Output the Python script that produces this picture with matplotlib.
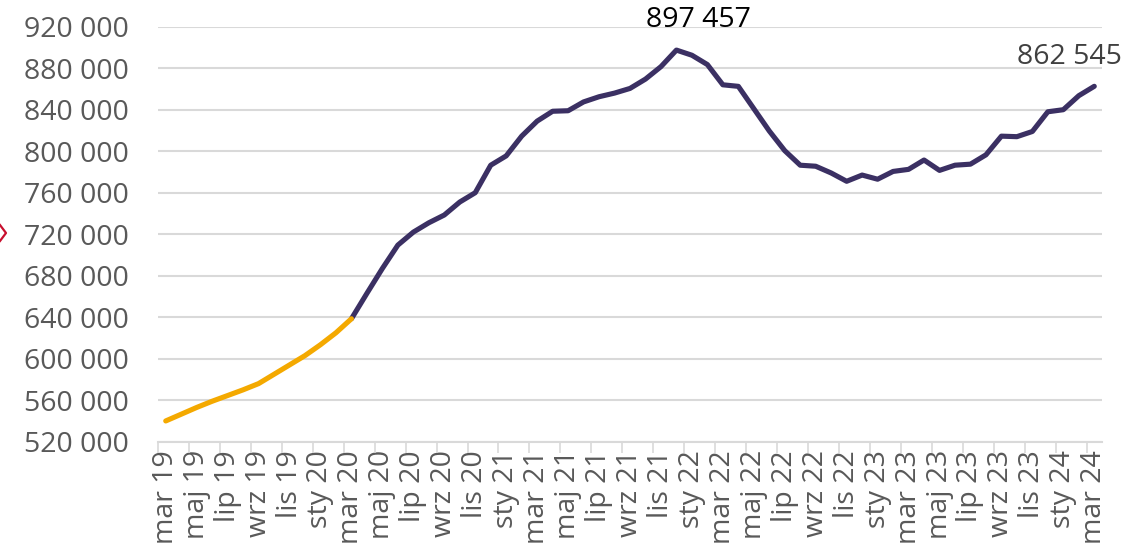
import numpy as np
import matplotlib.pyplot as plt
from matplotlib.lines import Line2D
from matplotlib.ticker import FuncFormatter

# ---------------- data ---------------- #
values = [540000, 546500, 553000, 559000, 564500, 570000, 576000, 585000,
          594000, 603000, 613500, 625000, 638500, 663000, 687000, 709500,
          722000, 731000, 738500, 751000, 760000, 786500, 795500, 814500,
          829000, 838500, 839000, 847500, 852500, 856000, 860500, 869500,
          881500, 897457, 892500, 883500, 864000, 862500, 841000, 819500,
          800500, 786500, 785500, 779000, 771000, 777000, 773000, 780500,
          782500, 791500, 781500, 786500, 787500, 796500, 814500, 814000,
          819000, 838000, 840000, 853500, 862545]
split_idx = 12          # orange part ends at mar 20

tick_labels = ['mar 19', 'maj 19', 'lip 19', 'wrz 19', 'lis 19', 'sty 20',
               'mar 20', 'maj 20', 'lip 20', 'wrz 20', 'lis 20', 'sty 21',
               'mar 21', 'maj 21', 'lip 21', 'wrz 21', 'lis 21', 'sty 22',
               'mar 22', 'maj 22', 'lip 22', 'wrz 22', 'lis 22', 'sty 23',
               'mar 23', 'maj 23', 'lip 23', 'wrz 23', 'lis 23', 'sty 24',
               'mar 24']

peak_label = '897 457'
last_label = '862 545'

NAVY = '#3b3063'
ORANGE = '#f4a900'
GRID = '#d9d9d9'
TXT = '#595959'

plt.rcParams['font.family'] = ['Open Sans', 'DejaVu Sans']
FS = 20.5

# ---------------- plot ---------------- #
x = np.arange(len(values))
y = np.array(values)

fig = plt.figure(figsize=(11.25, 5.51), dpi=100)
ax = fig.add_axes([158/1125, 1 - 441.7/551, (1102-158)/1125, (441.7-26.7)/551])

ax.plot(x[split_idx:], y[split_idx:], color=NAVY, lw=3.7,
        solid_capstyle='round', solid_joinstyle='round', zorder=3)
ax.plot(x[:split_idx+1], y[:split_idx+1], color=ORANGE, lw=3.7,
        solid_capstyle='round', solid_joinstyle='round', zorder=4)

ax.set_xlim(-0.5, len(values) - 0.5)
ax.set_ylim(520000, 920000)
ax.set_yticks(np.arange(520000, 920001, 40000))
ax.yaxis.set_major_formatter(FuncFormatter(lambda v, p: f'{int(v):,}'.replace(',', ' ')))
ax.grid(axis='y', color=GRID, lw=1.5)
ax.set_axisbelow(True)

ax.set_xticks(x[::2])
ax.set_xticklabels(tick_labels, rotation=90, va='top', ha='center')
ax.set_xticks(np.arange(-0.5, len(values) - 1, 2), minor=True)
ax.tick_params(axis='x', which='major', length=0, pad=6, labelsize=FS, labelcolor=TXT)
ax.tick_params(axis='x', which='minor', length=8, width=1.2, color=GRID)
ax.tick_params(axis='y', length=0, pad=21, labelsize=FS, labelcolor=TXT)

for s in ['top', 'right', 'left']:
    ax.spines[s].set_visible(False)
ax.spines['bottom'].set_color(GRID)
ax.spines['bottom'].set_linewidth(1.5)

# data labels
pk = int(np.argmax(y))
ax.annotate(peak_label, (pk, y[pk]), xytext=(16, 22), textcoords='offset points',
            ha='center', va='center', fontsize=FS, color='black', annotation_clip=False)
ax.annotate(last_label, (x[-1], y[-1]), xytext=(-18, 21), textcoords='offset points',
            ha='center', va='center', fontsize=FS, color='#404040', annotation_clip=False)

# red chevron fragment at the left edge
fig.add_artist(Line2D([0/1125, 6/1125, 0/1125],
                      [1 - 225/551, 1 - 233/551, 1 - 241/551],
                      transform=fig.transFigure, color='#c8102e', lw=1.6))

fig.savefig('out.png', dpi=100)
